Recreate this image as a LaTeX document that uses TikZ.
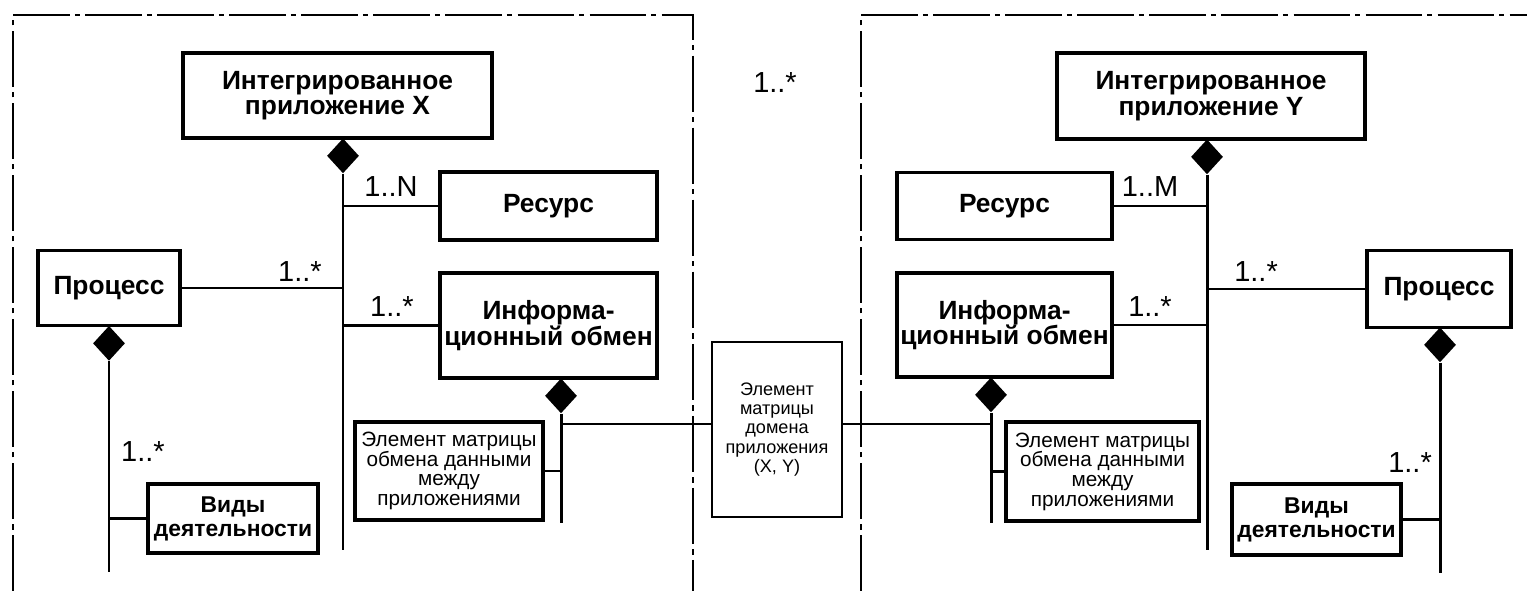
\documentclass[tikz,border=0pt]{standalone}
\usepackage{fontspec}
\setmainfont{Liberation Sans}
\usepackage{tikz}
\usetikzlibrary{shapes.geometric,calc}
\newcommand{\tightlines}{\lineskiplimit=-10pt\relax}
\tikzset{
    frame line/.style={line width=1.4pt,dash pattern=on 32pt off 3pt on 3pt off 3pt},
    object box/.style={draw,line width=2pt,align=center,inner sep=0pt,
        font=\bfseries\fontsize{15}{14.5}\selectfont\tightlines},
    activity box/.style={object box,font=\bfseries\fontsize{13}{13.6}\selectfont\tightlines},
    element box/.style={object box,font=\mdseries\fontsize{11.8}{11.2}\selectfont\tightlines},
    domain box/.style={draw,line width=1.4pt,align=center,inner sep=0pt,
        font=\fontsize{10.3}{11}\selectfont\tightlines},
    composition/.style={diamond,fill=black,inner sep=0pt,minimum width=.64cm,minimum height=.7cm,anchor=north},
    link/.style={line width=1.7pt},
    mult/.style={inner sep=0pt,font=\fontsize{16.5}{17}\selectfont},
}

\begin{document}
\begin{tikzpicture}[x=0.02cm,y=-0.02cm]
    \useasboundingbox (0,0) rectangle (1527,591);
    % application frames
    \draw[frame line] (13,591) -- (13,15) -- (693,15) -- (693,591);
    \draw[frame line] (861,591) -- (861,15) -- (1527,15);

    % application X
    \node[object box,minimum width=6.18cm,minimum height=1.7cm] (intX) at (337.5,95.5) {Интегрированное\\приложение X};
    \node[object box,minimum width=4.34cm,minimum height=1.36cm] (resX) at (548.5,206) {Ресурс};
    \node[object box,minimum width=2.84cm,minimum height=1.5cm] (procX) at (109,288) {Процесс};
    \node[object box,minimum width=4.34cm,minimum height=2.1cm] (infoX) at (548.5,325.5) {Информа-\\ционный обмен};
    \node[element box,minimum width=3.76cm,minimum height=1.96cm] (elemX) at (449,471) {Элемент матрицы\\обмена данными\\между\\приложениями};
    \node[activity box,minimum width=3.4cm,minimum height=1.38cm] (vidX) at (233,518.5) {Виды\\деятельности};

    \node[composition] (dIntX) at (343,138) {};
    \node[composition] (dProcX) at (109,325.5) {};
    \node[composition] (dInfoX) at (561,378) {};
    \coordinate (endIntX) at (343,550);
    \coordinate (endProcX) at (109,572);
    \coordinate (endInfoX) at (561,523);
    \coordinate (jX) at (561,424);

    \draw[link] (dIntX.south) -- (endIntX);
    \draw[link] (dProcX.south) -- (endProcX);
    \draw[link] (dInfoX.south) -- (endInfoX);
    \draw[link] (resX.west) -- (resX.west -| endIntX);
    \draw[link] (procX.east) -- (procX.east -| endIntX);
    \draw[link] (infoX.west) -- (infoX.west -| endIntX);
    \draw[link] (vidX.west) -- (vidX.west -| endProcX);
    \draw[link] (elemX.east) -- (elemX.east -| endInfoX);

    \node[mult] (mResX) at (391,187) {1..N};
    \node[mult] (mProcX) at (300,272) {1..*};
    \node[mult] (mInfoX) at (392,307) {1..*};
    \node[mult] (mVidX) at (143,452) {1..*};

    % domain element
    \node[domain box,minimum width=2.6cm,minimum height=3.5cm] (domain) at (777,429.5) {Элемент\\матрицы\\домена\\приложения\\(X, Y)};
    \node[mult] (mDomain) at (775,83) {1..*};

    % application Y
    \node[object box,minimum width=6.16cm,minimum height=1.72cm] (intY) at (1211,96) {Интегрированное\\приложение Y};
    \node[object box,minimum width=4.3cm,minimum height=1.34cm] (resY) at (1004.5,206) {Ресурс};
    \node[object box,minimum width=2.88cm,minimum height=1.54cm] (procY) at (1439,289) {Процесс};
    \node[object box,minimum width=4.3cm,minimum height=2.08cm] (infoY) at (1004.5,325) {Информа-\\ционный обмен};
    \node[element box,minimum width=3.86cm,minimum height=1.98cm] (elemY) at (1102.5,471.5) {Элемент матрицы\\обмена данными\\между\\приложениями};
    \node[activity box,minimum width=3.38cm,minimum height=1.42cm] (vidY) at (1316.5,519.5) {Виды\\деятельности};

    \node[composition] (dIntY) at (1207,139) {};
    \node[composition] (dProcY) at (1440,327) {};
    \node[composition] (dInfoY) at (991,377) {};
    \coordinate (endIntY) at (1207,550);
    \coordinate (endProcY) at (1440,573);
    \coordinate (endInfoY) at (991,523);
    \coordinate (jY) at (991,424);

    \draw[link] (dIntY.south) -- (endIntY);
    \draw[link] (dProcY.south) -- (endProcY);
    \draw[link] (dInfoY.south) -- (endInfoY);
    \draw[link] (resY.east) -- (resY.east -| endIntY);
    \draw[link] (procY.west) -- (procY.west -| endIntY);
    \draw[link] (infoY.east) -- (infoY.east -| endIntY);
    \draw[link] (vidY.east) -- (vidY.east -| endProcY);
    \draw[link] (elemY.west) -- (elemY.west -| endInfoY);

    \node[mult] (mResY) at (1150,187) {1..M};
    \node[mult] (mProcY) at (1256,272) {1..*};
    \node[mult] (mInfoY) at (1150,307) {1..*};
    \node[mult] (mVidY) at (1410,463) {1..*};

    \draw[link] (jX) -- (jX -| domain.west);
    \draw[link] (domain.east |- jY) -- (jY);
\end{tikzpicture}
\end{document}
